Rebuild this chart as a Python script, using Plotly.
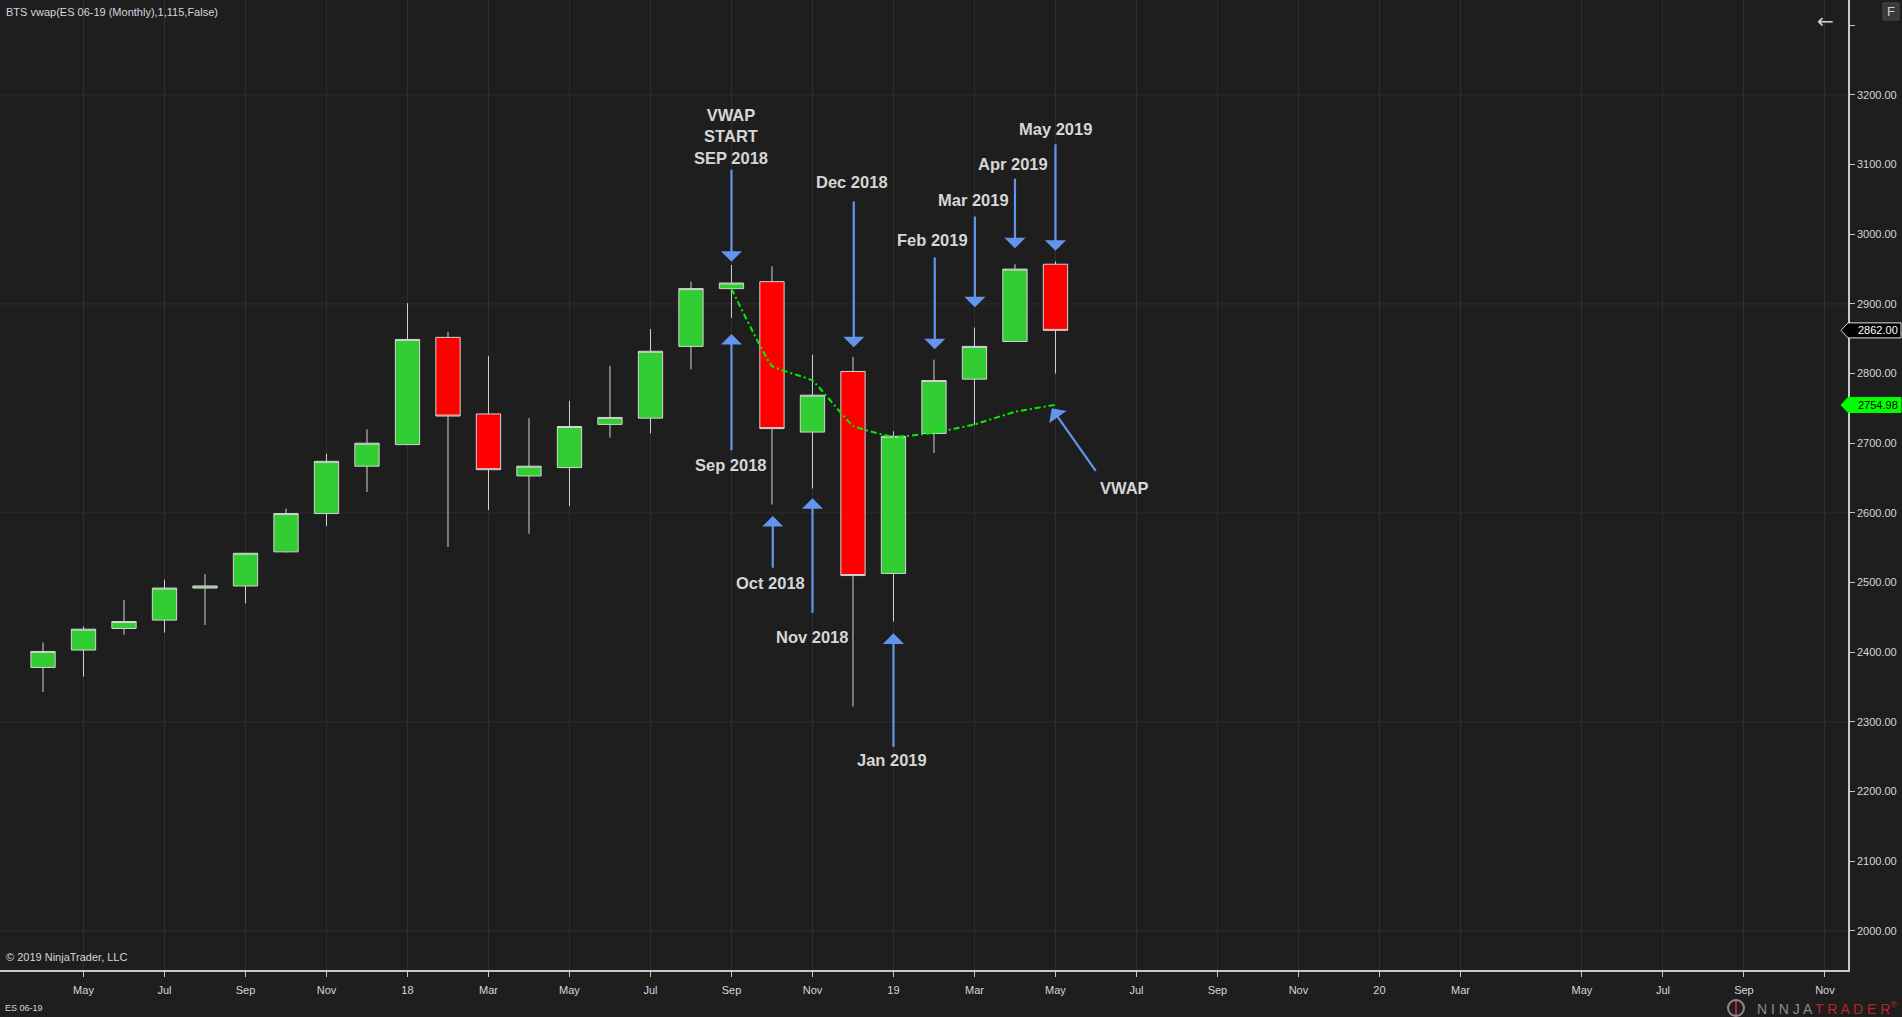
import plotly.graph_objects as go

# ---------------- data ----------------
months = ["Apr 2017", "May 2017", "Jun 2017", "Jul 2017", "Aug 2017", "Sep 2017",
          "Oct 2017", "Nov 2017", "Dec 2017", "Jan 2018", "Feb 2018", "Mar 2018",
          "Apr 2018", "May 2018", "Jun 2018", "Jul 2018", "Aug 2018", "Sep 2018",
          "Oct 2018", "Nov 2018", "Dec 2018", "Jan 2019", "Feb 2019", "Mar 2019",
          "Apr 2019", "May 2019"]
opens = [2378, 2403, 2434, 2446, 2492, 2495, 2544, 2599, 2667, 2698, 2852, 2742,
         2653, 2665, 2727, 2736, 2839, 2922, 2932, 2716, 2803, 2513, 2714, 2792,
         2846, 2957]
highs = [2414, 2437, 2475, 2504, 2512, 2542, 2606, 2685, 2720, 2901, 2860, 2825,
         2736, 2761, 2811, 2864, 2932, 2956, 2954, 2827, 2824, 2717, 2820, 2866,
         2957, 2961]
lows = [2343, 2365, 2425, 2428, 2439, 2470, 2543, 2581, 2630, 2698, 2551, 2604,
        2570, 2610, 2708, 2714, 2806, 2880, 2612, 2635, 2322, 2444, 2686, 2726,
        2846, 2800]
closes = [2401, 2433, 2444, 2492, 2495, 2542, 2599, 2674, 2700, 2849, 2739, 2662,
          2667, 2724, 2737, 2832, 2922, 2930, 2721, 2769, 2510, 2710, 2790, 2839,
          2950, 2862]

vwap_start = 17  # Sep 2018
vwap = [2922, 2811, 2790, 2725, 2709, 2715, 2727, 2745, 2754.98]

x_tick_pos = [1, 3, 5, 7, 9, 11, 13, 15, 17, 19, 21, 23, 25, 27, 29, 31, 33, 35,
              38, 40, 42, 44]
x_tick_text = ["May", "Jul", "Sep", "Nov", "18", "Mar", "May", "Jul", "Sep", "Nov",
               "19", "Mar", "May", "Jul", "Sep", "Nov", "20", "Mar", "May", "Jul",
               "Sep", "Nov"]
y_tick_vals = list(range(2000, 3301, 100))
y_tick_text = [f"{v:.2f}" for v in y_tick_vals[:-1]] + [""]

title_text = "BTS vwap(ES 06-19 (Monthly),1,115,False)"
instrument = "ES 06-19"
copyright_text = "© 2019 NinjaTrader, LLC"

# ---------------- layout / style ----------------
X_RANGE = [-1.062, 44.57]
Y_RANGE = [1943.6, 3336.4]
BG = "#1e1e1e"
GRID = "#2e2e2e"
AXIS = "#c8c8c8"
TXT = "#d2d6de"
LABEL = "#d6d6d6"
ARROW = "#6495ed"
FONT = "Liberation Sans, Arial, sans-serif"

idx = list(range(len(months)))

fig = go.Figure()
fig.add_trace(go.Candlestick(
    x=idx, open=opens, high=highs, low=lows, close=closes,
    increasing=dict(fillcolor="#32cd32", line=dict(color="#d3d3d3", width=1)),
    decreasing=dict(fillcolor="#ff0000", line=dict(color="#d3d3d3", width=1)),
    whiskerwidth=0, showlegend=False, hoverinfo="skip"))
fig.add_trace(go.Scatter(
    x=idx[vwap_start:vwap_start + len(vwap)], y=vwap, mode="lines",
    line=dict(color="#00f000", width=2, dash="6px,3px,2px,3px",
              shape="spline", smoothing=0.3),
    showlegend=False, hoverinfo="skip"))

shapes = []
# horizontal grid every 300
for v in range(2000, 3301, 300):
    shapes.append(dict(type="line", xref="paper", yref="y", x0=0, x1=1, y0=v, y1=v,
                       line=dict(color=GRID, width=1), layer="below"))


def yfrac(v):
    return (v - Y_RANGE[0]) / (Y_RANGE[1] - Y_RANGE[0])


# price markers on right axis
markers = [(closes[-1], "#000000", "#ffffff", "#e0e0e0"),
           (vwap[-1], "#00ff00", "#000000", "#00ff00")]
annotations = []
for val, fill, tcol, border in markers:
    shapes.append(dict(type="path", xref="paper", yref="paper",
                       xsizemode="pixel", ysizemode="pixel",
                       xanchor=1, yanchor=yfrac(val),
                       path="M -7,0 L 0,7.5 L 53,7.5 L 53,-7.5 L 0,-7.5 Z",
                       fillcolor=fill, line=dict(color=border, width=1)))
    annotations.append(dict(xref="paper", yref="y", x=1, y=val, xanchor="left",
                            yanchor="middle", xshift=8, showarrow=False,
                            text=f"{val:.2f}", font=dict(family=FONT, size=11, color=tcol)))

# "F" box top right
shapes.append(dict(type="rect", xref="paper", yref="paper", xsizemode="pixel",
                   ysizemode="pixel", xanchor=1, yanchor=1, x0=35, x1=51, y0=-3, y1=-20,
                   fillcolor="#3a3a3a", line=dict(color="#4a4a4a", width=1)))
annotations.append(dict(xref="paper", yref="paper", x=1, y=1, xshift=43, yshift=-11.5,
                        xanchor="center", yanchor="middle", showarrow=False, text="F",
                        font=dict(family=FONT, size=13, color="#d0d0d0")))
annotations.append(dict(xref="paper", yref="paper", x=1, y=1, xshift=-23, yshift=-21,
                        xanchor="center", yanchor="middle", showarrow=False, text="←",
                        font=dict(family="DejaVu Sans", size=20, color="#d0d0d0")))

# callouts: text, text_x, text_y, tip_x, tip_y, tail_x, tail_y
CALLOUTS = [
    ("VWAP<br>START<br>SEP 2018", 17.0, 3141, 17.0, 2960.6, 17.0, 3094.7),
    ("Sep 2018", 17.0, 2668.7, 17.0, 2856.8, 17.0, 2687.8),
    ("Oct 2018", 17.96, 2498.8, 18.02, 2595.5, 18.02, 2519.0),
    ("Nov 2018", 19.0, 2421.3, 19.0, 2620.9, 19.0, 2454.3),
    ("Dec 2018", 19.98, 3075.1, 20.02, 2837.7, 20.02, 3049.2),
    ("Jan 2019", 20.97, 2245.1, 21.0, 2427.0, 21.0, 2261.9),
    ("Feb 2019", 21.97, 2991.8, 22.02, 2834.8, 22.02, 2968.8),
    ("Mar 2019", 22.98, 3049.2, 23.01, 2895.1, 23.01, 3027.7),
    ("Apr 2019", 23.96, 3100.5, 24.0, 2979.9, 24.0, 3081.8),
    ("May 2019", 25.01, 3150.8, 25.0, 2976.4, 25.0, 3131.5),
    ("VWAP", 26.70, 2636.1, 24.91, 2750.1, 26.02, 2658.2),
]
for text, tx, ty, hx, hy, sx, sy in CALLOUTS:
    annotations.append(dict(xref="x", yref="y", x=hx, y=hy, ax=sx, ay=sy,
                            axref="x", ayref="y", text="", showarrow=True,
                            arrowhead=1, arrowsize=1.6, arrowwidth=2.2,
                            arrowcolor=ARROW, standoff=0, startstandoff=0))
    annotations.append(dict(xref="x", yref="y", x=tx, y=ty, text=text,
                            showarrow=False, xanchor="center", yanchor="middle",
                            font=dict(family=FONT, size=16.5, color=LABEL, weight="bold")))

# texts
annotations.append(dict(xref="paper", yref="paper", x=0, y=1, xanchor="left",
                        yanchor="middle", xshift=4, yshift=-12, showarrow=False,
                        text=title_text, font=dict(family=FONT, size=11, color=TXT)))
annotations.append(dict(xref="paper", yref="paper", x=0, y=0, xanchor="left",
                        yanchor="middle", xshift=4, yshift=13, showarrow=False,
                        text=copyright_text, font=dict(family=FONT, size=11, color=TXT)))
annotations.append(dict(xref="paper", yref="paper", x=0, y=0, xanchor="left",
                        yanchor="middle", xshift=3, yshift=-38, showarrow=False,
                        text=instrument, font=dict(family=FONT, size=9, color=TXT)))
annotations.append(dict(xref="paper", yref="paper", x=1, y=0, xanchor="right",
                        yanchor="middle", xshift=52, yshift=-38, showarrow=False,
                        text='<span style="color:#8c8c8c">N I N J A </span>'
                             '<span style="color:#b5252b">T R A D E R</span>'
                             '<span style="color:#b5252b"><sup>®</sup></span>',
                        font=dict(family=FONT, size=14)))
shapes.append(dict(type="circle", xref="paper", yref="paper", xsizemode="pixel",
                   ysizemode="pixel", xanchor=1, yanchor=0, x0=-120, x1=-104,
                   y0=-46, y1=-30, line=dict(color="#8c8c8c", width=2)))
shapes.append(dict(type="line", xref="paper", yref="paper", xsizemode="pixel",
                   ysizemode="pixel", xanchor=1, yanchor=0, x0=-112, x1=-112,
                   y0=-45, y1=-31, line=dict(color="#b5252b", width=2)))

fig.update_layout(
    width=1902, height=1017,
    margin=dict(l=0, r=54, t=0, b=47, pad=0),
    paper_bgcolor=BG, plot_bgcolor=BG,
    boxgap=0.4, boxgroupgap=0,
    showlegend=False,
    font=dict(family=FONT, color=TXT),
    shapes=shapes, annotations=annotations,
    xaxis=dict(range=X_RANGE, tickmode="array", tickvals=x_tick_pos,
               ticktext=x_tick_text, showgrid=True, gridcolor=GRID, gridwidth=1,
               zeroline=False, showline=True, linecolor=AXIS, linewidth=1.5,
               ticks="outside", ticklen=5, tickcolor=AXIS, tickwidth=1,
               tickfont=dict(family=FONT, size=11, color=TXT),
               ticklabelstandoff=4, rangeslider=dict(visible=False), fixedrange=True),
    yaxis=dict(range=Y_RANGE, side="right", tickmode="array", tickvals=y_tick_vals,
               ticktext=y_tick_text, showgrid=False, zeroline=False, showline=True,
               linecolor=AXIS, linewidth=1.5, ticks="outside", ticklen=5,
               tickcolor=AXIS, tickwidth=1,
               tickfont=dict(family=FONT, size=11, color=TXT), fixedrange=True),
)

fig.write_html("out.html", config={"displayModeBar": False},
               post_script="document.body.style.margin='0';document.body.style.overflow='hidden';")
